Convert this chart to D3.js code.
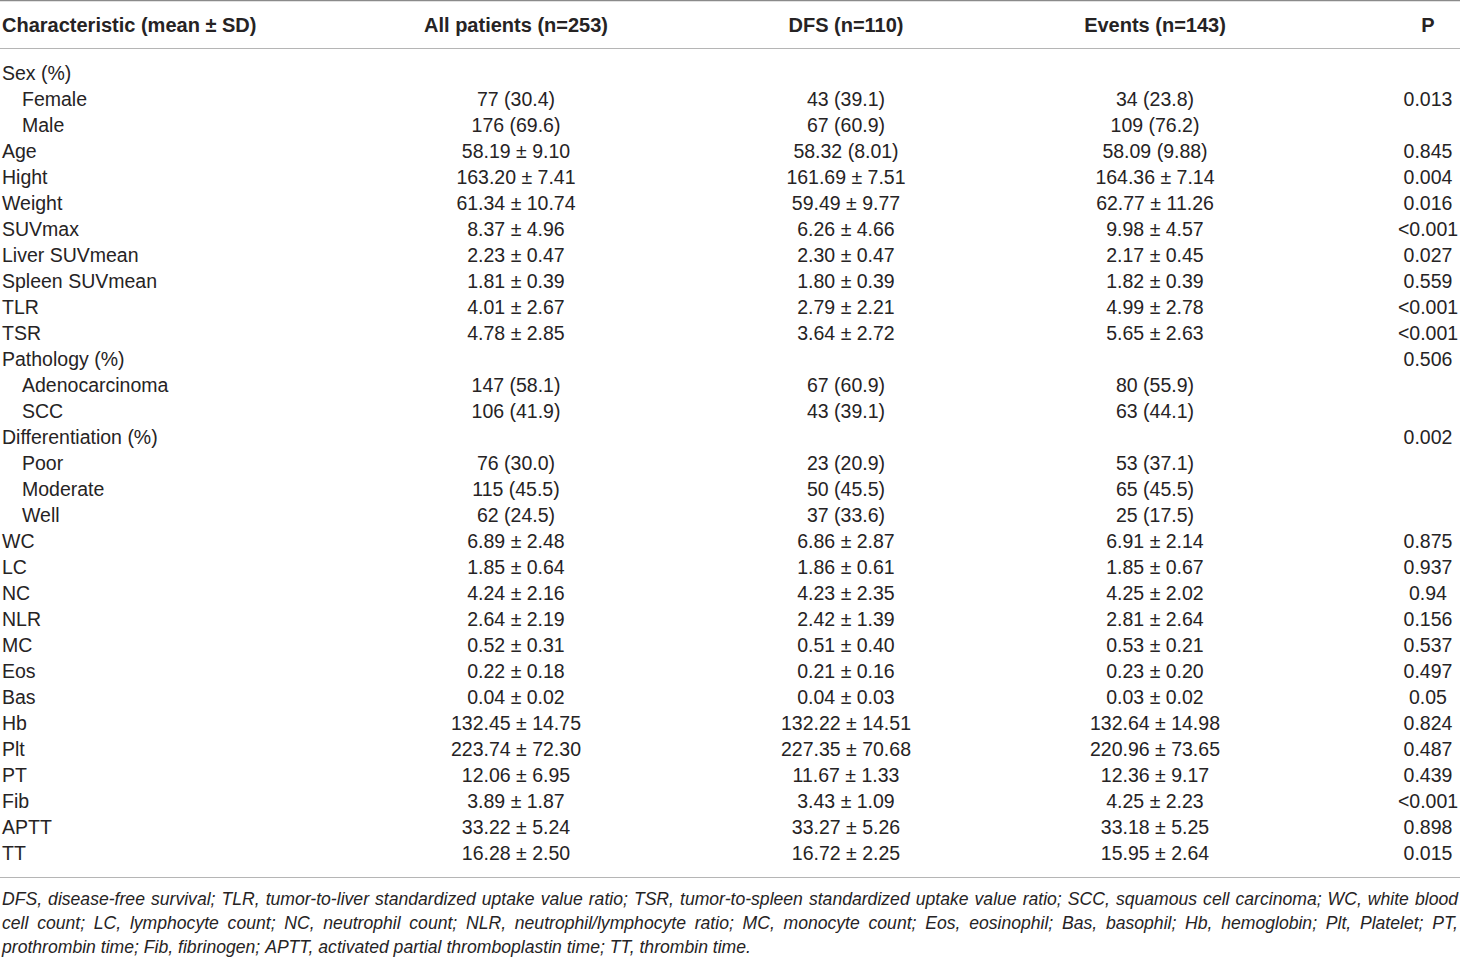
<!DOCTYPE html>
<head>
  <script src="https://d3js.org/d3.v7.min.js"></script>
  <style>
    body { margin: 0; background: #fff; }
    text { font-family: "Liberation Sans", Arial, sans-serif; fill: #262324; }
  </style>
</head>
<body>
  <svg width="1460" height="960"></svg>
  <script>
    const headers = ["Characteristic (mean \u00b1 SD)", "All patients (n=253)", "DFS (n=110)", "Events (n=143)", "P"];

    const labels = ["Sex (%)", "Female", "Male", "Age", "Hight", "Weight", "SUVmax", "Liver SUVmean", "Spleen SUVmean",
      "TLR", "TSR", "Pathology (%)", "Adenocarcinoma", "SCC", "Differentiation (%)", "Poor", "Moderate", "Well",
      "WC", "LC", "NC", "NLR", "MC", "Eos", "Bas", "Hb", "Plt", "PT", "Fib", "APTT", "TT"];
    const subRows = ["Female", "Male", "Adenocarcinoma", "SCC", "Poor", "Moderate", "Well"];

    const allPatients = ["", "77 (30.4)", "176 (69.6)", "58.19 \u00b1 9.10", "163.20 \u00b1 7.41", "61.34 \u00b1 10.74",
      "8.37 \u00b1 4.96", "2.23 \u00b1 0.47", "1.81 \u00b1 0.39", "4.01 \u00b1 2.67", "4.78 \u00b1 2.85", "",
      "147 (58.1)", "106 (41.9)", "", "76 (30.0)", "115 (45.5)", "62 (24.5)",
      "6.89 \u00b1 2.48", "1.85 \u00b1 0.64", "4.24 \u00b1 2.16", "2.64 \u00b1 2.19", "0.52 \u00b1 0.31",
      "0.22 \u00b1 0.18", "0.04 \u00b1 0.02", "132.45 \u00b1 14.75", "223.74 \u00b1 72.30", "12.06 \u00b1 6.95",
      "3.89 \u00b1 1.87", "33.22 \u00b1 5.24", "16.28 \u00b1 2.50"];
    const dfs = ["", "43 (39.1)", "67 (60.9)", "58.32 (8.01)", "161.69 \u00b1 7.51", "59.49 \u00b1 9.77",
      "6.26 \u00b1 4.66", "2.30 \u00b1 0.47", "1.80 \u00b1 0.39", "2.79 \u00b1 2.21", "3.64 \u00b1 2.72", "",
      "67 (60.9)", "43 (39.1)", "", "23 (20.9)", "50 (45.5)", "37 (33.6)",
      "6.86 \u00b1 2.87", "1.86 \u00b1 0.61", "4.23 \u00b1 2.35", "2.42 \u00b1 1.39", "0.51 \u00b1 0.40",
      "0.21 \u00b1 0.16", "0.04 \u00b1 0.03", "132.22 \u00b1 14.51", "227.35 \u00b1 70.68", "11.67 \u00b1 1.33",
      "3.43 \u00b1 1.09", "33.27 \u00b1 5.26", "16.72 \u00b1 2.25"];
    const events = ["", "34 (23.8)", "109 (76.2)", "58.09 (9.88)", "164.36 \u00b1 7.14", "62.77 \u00b1 11.26",
      "9.98 \u00b1 4.57", "2.17 \u00b1 0.45", "1.82 \u00b1 0.39", "4.99 \u00b1 2.78", "5.65 \u00b1 2.63", "",
      "80 (55.9)", "63 (44.1)", "", "53 (37.1)", "65 (45.5)", "25 (17.5)",
      "6.91 \u00b1 2.14", "1.85 \u00b1 0.67", "4.25 \u00b1 2.02", "2.81 \u00b1 2.64", "0.53 \u00b1 0.21",
      "0.23 \u00b1 0.20", "0.03 \u00b1 0.02", "132.64 \u00b1 14.98", "220.96 \u00b1 73.65", "12.36 \u00b1 9.17",
      "4.25 \u00b1 2.23", "33.18 \u00b1 5.25", "15.95 \u00b1 2.64"];
    const pValues = ["", "0.013", "", "0.845", "0.004", "0.016", "<0.001", "0.027", "0.559", "<0.001", "<0.001",
      "0.506", "", "", "0.002", "", "", "", "0.875", "0.937", "0.94", "0.156", "0.537", "0.497", "0.05",
      "0.824", "0.487", "0.439", "<0.001", "0.898", "0.015"];

    const footnoteLines = [
      "DFS, disease-free survival; TLR, tumor-to-liver standardized uptake value ratio; TSR, tumor-to-spleen standardized uptake value ratio; SCC, squamous cell carcinoma; WC, white blood",
      "cell count; LC, lymphocyte count; NC, neutrophil count; NLR, neutrophil/lymphocyte ratio; MC, monocyte count; Eos, eosinophil; Bas, basophil; Hb, hemoglobin; Plt, Platelet; PT,",
      "prothrombin time; Fib, fibrinogen; APTT, activated partial thromboplastin time; TT, thrombin time."
    ];

    const svg = d3.select("svg");
    const W = 1460;

    // column centres (first column is left aligned)
    const colX = [2, 516, 846, 1155, 1428];
    const y = d3.scaleLinear().domain([0, labels.length - 1]).range([73, 853]);

    // rules
    svg.append("line").attr("x1", 0).attr("x2", W).attr("y1", 0.5).attr("y2", 0.5)
      .attr("stroke", "#8a8a8a").attr("stroke-width", 1.5);
    svg.append("line").attr("x1", 0).attr("x2", W).attr("y1", 48.5).attr("y2", 48.5)
      .attr("stroke", "#b5b5b5").attr("stroke-width", 1.2);
    svg.append("line").attr("x1", 0).attr("x2", W).attr("y1", 877.5).attr("y2", 877.5)
      .attr("stroke", "#b5b5b5").attr("stroke-width", 1.2);

    // header
    svg.selectAll("text.head")
      .data(headers)
      .enter().append("text")
      .attr("class", "head")
      .attr("x", (d, i) => colX[i])
      .attr("y", 25)
      .attr("dy", "0.35em")
      .attr("text-anchor", (d, i) => i === 0 ? "start" : "middle")
      .style("font-size", "20px")
      .style("font-weight", "bold")
      .text(d => d);

    // body
    const rows = labels.map((l, i) => ({ i, cells: [l, allPatients[i], dfs[i], events[i], pValues[i]] }));
    const g = svg.selectAll("g.row")
      .data(rows)
      .enter().append("g")
      .attr("class", "row")
      .attr("transform", d => `translate(0,${y(d.i)})`);

    g.selectAll("text")
      .data(d => d.cells)
      .enter().append("text")
      .attr("x", (d, i) => i === 0 ? (subRows.includes(d) ? 22 : 2) : colX[i])
      .attr("dy", "0.35em")
      .attr("text-anchor", (d, i) => i === 0 ? "start" : "middle")
      .style("font-size", "19.5px")
      .text(d => d);

    // footnote, justified like the source
    const fy = [899, 923, 947];
    footnoteLines.forEach((line, li) => {
      const words = line.split(" ");
      const tmp = svg.append("g").style("font-size", "17.6px").style("font-style", "italic");
      const nodes = words.map(w => tmp.append("text").attr("y", fy[li]).attr("dy", "0.35em").text(w));
      const widths = nodes.map(n => n.node().getComputedTextLength());
      const total = d3.sum(widths);
      const justify = li < footnoteLines.length - 1;
      const space = justify ? (W - 4 - total) / (words.length - 1) : 4.9;
      let x = 2;
      nodes.forEach((n, k) => {
        n.attr("x", x);
        x += widths[k] + space;
      });
    });
  </script>
</body>
